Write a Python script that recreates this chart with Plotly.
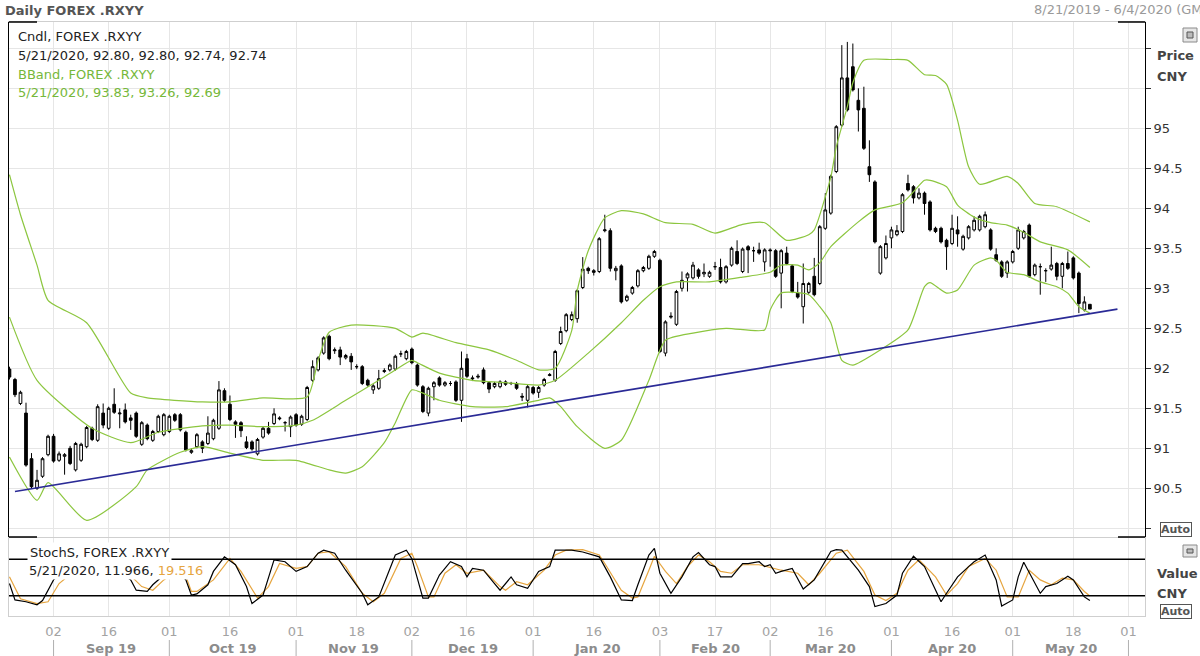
import pandas as pd
import plotly.graph_objects as go

# ------------------------------------------------------------------ data
trade_dates = pd.bdate_range("2019-08-21", "2020-05-21")  # 197 daily candles

open_px = [
    91.99, 91.86, 91.56, 91.44, 90.87, 90.50, 90.65, 90.92, 91.15, 90.85,
    90.90, 91.00, 90.73, 90.85, 91.02, 91.25, 91.10, 91.44, 91.25, 91.55,
    91.43, 91.48, 91.38, 91.44, 91.05, 91.29, 91.10, 91.21, 91.17, 91.21,
    91.42, 91.42, 91.20, 90.95, 91.02, 91.08, 91.06, 91.12, 91.25, 91.72,
    91.55, 91.33, 91.32, 91.08, 91.08, 90.93, 91.14, 91.25, 91.31, 91.38,
    91.32, 91.27, 91.42, 91.30, 91.36, 91.85, 91.98, 92.19, 92.40, 92.22,
    92.23, 92.13, 92.15, 92.02, 92.02, 91.85, 91.73, 91.75, 91.96, 91.98,
    91.99, 92.18, 92.12, 92.24, 92.04, 91.77, 91.44, 91.77, 91.88, 91.79,
    91.81, 91.83, 91.60, 92.12, 91.88, 91.89, 91.98, 91.82, 91.77, 91.77,
    91.83, 91.81, 91.81, 91.65, 91.60, 91.76, 91.70, 91.79, 91.91, 91.85,
    92.31, 92.47, 92.61, 92.62, 93.01, 93.25, 93.22, 93.21, 93.72, 93.72,
    93.22, 93.28, 92.85, 92.94, 93.03, 93.22, 93.25, 93.40, 93.35, 92.19,
    92.64, 92.55, 93.00, 93.13, 93.13, 93.23, 93.18, 93.15, 93.27, 93.26,
    93.08, 93.29, 93.46, 93.21, 93.52, 93.47, 93.48, 93.33, 93.48, 93.47,
    93.19, 93.44, 93.28, 92.94, 92.77, 92.95, 93.15, 93.06, 93.75, 93.94,
    94.46, 95.04, 95.63, 95.77, 95.35, 95.25, 94.52, 94.33, 93.19, 93.38,
    93.63, 93.67, 93.71, 94.31, 94.27, 94.13, 94.19, 94.08, 93.75, 93.75,
    93.60, 93.56, 93.73, 93.49, 93.63, 93.73, 93.73, 93.77, 93.73, 93.42,
    93.33, 93.19, 93.33, 93.50, 93.63, 93.79, 93.17, 93.27, 93.22, 93.24,
    93.31, 93.15, 93.31, 93.38, 93.19, 92.73, 92.80,
]
high_px = [
    92.02, 91.88, 91.72, 91.57, 90.94, 90.73, 90.89, 91.17, 91.18, 90.96,
    90.94, 91.03, 91.08, 91.07, 91.28, 91.27, 91.55, 91.56, 91.52, 91.75,
    91.50, 91.56, 91.42, 91.46, 91.34, 91.31, 91.23, 91.42, 91.44, 91.42,
    91.44, 91.44, 91.22, 91.00, 91.19, 91.10, 91.40, 91.37, 91.84, 91.75,
    91.66, 91.35, 91.34, 91.15, 91.10, 91.13, 91.27, 91.33, 91.50, 91.40,
    91.34, 91.41, 91.44, 91.42, 91.78, 92.10, 92.15, 92.40, 92.42, 92.26,
    92.27, 92.18, 92.19, 92.05, 92.04, 91.87, 91.80, 91.98, 92.00, 92.06,
    92.17, 92.22, 92.23, 92.26, 92.06, 91.79, 91.77, 91.84, 91.90, 91.84,
    91.84, 91.85, 92.21, 92.18, 91.91, 91.93, 92.01, 91.84, 91.83, 91.85,
    91.85, 91.83, 91.83, 91.69, 91.79, 91.78, 91.78, 91.88, 91.94, 92.23,
    92.52, 92.69, 92.71, 92.99, 93.39, 93.27, 93.24, 93.64, 93.92, 93.75,
    93.28, 93.30, 92.92, 93.03, 93.24, 93.28, 93.42, 93.48, 93.37, 92.60,
    92.70, 92.98, 93.21, 93.20, 93.33, 93.25, 93.31, 93.22, 93.33, 93.37,
    93.29, 93.52, 93.60, 93.51, 93.54, 93.52, 93.57, 93.50, 93.50, 93.49,
    93.49, 93.52, 93.30, 93.08, 93.31, 93.08, 93.38, 93.79, 94.19, 94.42,
    95.04, 96.04, 96.08, 96.06, 95.50, 95.52, 94.85, 94.35, 93.54, 93.66,
    93.77, 93.79, 94.19, 94.42, 94.29, 94.25, 94.21, 94.10, 93.77, 93.77,
    93.62, 93.92, 93.90, 93.67, 93.79, 93.90, 93.92, 93.96, 93.75, 93.50,
    93.35, 93.35, 93.48, 93.77, 93.73, 93.81, 93.31, 93.31, 93.25, 93.52,
    93.33, 93.33, 93.46, 93.40, 93.21, 92.90, 92.80,
]
low_px = [
    91.86, 91.64, 91.54, 90.77, 90.50, 90.48, 90.63, 90.90, 90.82, 90.83,
    90.67, 90.79, 90.71, 90.83, 91.00, 91.09, 91.08, 91.25, 91.23, 91.43,
    91.25, 91.31, 91.23, 91.13, 91.03, 91.10, 91.08, 91.19, 91.15, 91.19,
    91.33, 91.21, 90.96, 90.93, 91.00, 90.94, 91.04, 91.10, 91.23, 91.58,
    91.34, 91.13, 91.14, 90.99, 90.97, 90.91, 91.12, 91.17, 91.29, 91.35,
    91.21, 91.14, 91.27, 91.28, 91.34, 91.83, 91.96, 92.17, 92.10, 92.18,
    92.04, 92.11, 91.98, 91.99, 91.79, 91.77, 91.68, 91.73, 91.94, 91.96,
    91.97, 92.14, 92.10, 92.05, 91.77, 91.44, 91.40, 91.60, 91.77, 91.77,
    91.78, 91.58, 91.33, 91.88, 91.84, 91.87, 91.80, 91.69, 91.75, 91.75,
    91.78, 91.79, 91.73, 91.59, 91.51, 91.67, 91.63, 91.77, 91.90, 91.83,
    92.29, 92.45, 92.59, 92.57, 92.99, 93.18, 93.16, 93.19, 93.70, 93.21,
    93.10, 92.81, 92.83, 92.92, 93.01, 93.20, 93.23, 93.38, 92.19, 92.15,
    92.62, 92.53, 92.96, 92.96, 93.11, 93.12, 93.14, 93.13, 93.23, 93.06,
    93.06, 93.27, 93.29, 93.19, 93.19, 93.33, 93.42, 93.21, 93.27, 93.13,
    92.75, 93.29, 92.94, 92.87, 92.56, 92.93, 92.90, 93.04, 93.73, 93.92,
    94.44, 95.02, 95.21, 95.46, 94.96, 94.73, 94.33, 93.56, 93.17, 93.36,
    93.50, 93.65, 93.69, 94.21, 94.06, 94.11, 93.92, 93.71, 93.69, 93.56,
    93.23, 93.54, 93.52, 93.47, 93.61, 93.71, 93.71, 93.75, 93.47, 93.33,
    93.13, 93.13, 93.31, 93.48, 93.61, 93.13, 93.15, 92.92, 93.08, 93.22,
    93.10, 93.00, 93.23, 93.11, 92.69, 92.71, 92.74,
]
close_px = [
    91.89, 91.67, 91.70, 90.79, 90.52, 90.60, 90.87, 91.15, 90.84, 90.93,
    90.92, 90.81, 91.06, 91.05, 91.26, 91.11, 91.52, 91.29, 91.50, 91.45,
    91.44, 91.33, 91.35, 91.15, 91.32, 91.12, 91.21, 91.40, 91.42, 91.40,
    91.35, 91.23, 90.98, 90.97, 91.17, 91.00, 91.19, 91.35, 91.73, 91.60,
    91.36, 91.30, 91.22, 91.01, 90.99, 91.11, 91.25, 91.19, 91.43, 91.37,
    91.32, 91.39, 91.29, 91.40, 91.76, 92.02, 92.13, 92.38, 92.12, 92.23,
    92.14, 92.16, 92.08, 92.02, 91.81, 91.79, 91.78, 91.87, 91.97, 92.04,
    92.15, 92.18, 92.21, 92.07, 91.79, 91.46, 91.75, 91.82, 91.79, 91.82,
    91.81, 91.60, 92.00, 91.90, 91.87, 91.90, 91.82, 91.74, 91.81, 91.83,
    91.80, 91.81, 91.75, 91.64, 91.77, 91.69, 91.76, 91.86, 91.92, 92.21,
    92.46, 92.67, 92.67, 92.97, 93.24, 93.22, 93.20, 93.62, 93.73, 93.25,
    93.25, 92.83, 92.90, 93.01, 93.22, 93.26, 93.40, 93.46, 92.21, 92.58,
    92.65, 92.96, 93.10, 93.18, 93.29, 93.15, 93.20, 93.20, 93.27, 93.08,
    93.27, 93.50, 93.31, 93.49, 93.48, 93.47, 93.44, 93.48, 93.47, 93.15,
    93.47, 93.31, 92.96, 92.89, 93.06, 93.06, 92.92, 93.77, 93.98, 94.40,
    95.02, 95.63, 95.23, 95.48, 95.23, 94.75, 94.42, 93.58, 93.52, 93.56,
    93.73, 93.72, 94.17, 94.23, 94.13, 94.19, 94.06, 93.73, 93.71, 93.58,
    93.52, 93.75, 93.68, 93.65, 93.77, 93.85, 93.90, 93.92, 93.49, 93.35,
    93.15, 93.33, 93.46, 93.73, 93.71, 93.15, 93.29, 93.27, 93.22, 93.29,
    93.15, 93.31, 93.25, 93.13, 92.81, 92.83, 92.74,
]

# Bollinger bands
bb_upper_dates = ["2019-08-21", "2019-08-23", "2019-08-28", "2019-08-30", "2019-09-10", "2019-09-20",
                  "2019-09-25", "2019-10-09", "2019-10-16", "2019-10-24", "2019-11-05", "2019-11-07",
                  "2019-11-11", "2019-11-15", "2019-11-27", "2019-12-02", "2019-12-04", "2019-12-12",
                  "2019-12-20", "2019-12-27", "2020-01-02", "2020-01-07", "2020-01-10", "2020-01-13",
                  "2020-01-15", "2020-01-20", "2020-01-23", "2020-01-29", "2020-02-04", "2020-02-11",
                  "2020-02-17", "2020-02-24", "2020-02-28", "2020-03-05", "2020-03-11", "2020-03-12",
                  "2020-03-17", "2020-03-18", "2020-03-20", "2020-03-23", "2020-03-25", "2020-04-01",
                  "2020-04-06", "2020-04-09", "2020-04-13", "2020-04-15", "2020-04-17", "2020-04-21",
                  "2020-04-23", "2020-04-30", "2020-05-04", "2020-05-07", "2020-05-13", "2020-05-21"]
bb_upper = [94.42, 93.92, 93.29, 92.85, 92.57, 91.69, 91.63, 91.58, 91.58, 91.63, 91.64, 92.10,
            92.45, 92.54, 92.50, 92.39, 92.44, 92.32, 92.23, 92.10, 91.98, 92.00, 92.47, 92.97,
            93.47, 93.88, 93.97, 93.93, 93.82, 93.80, 93.69, 93.80, 93.82, 93.60, 93.67, 93.73,
            94.39, 94.77, 95.27, 95.57, 95.85, 95.86, 95.85, 95.67, 95.66, 95.55, 95.10, 94.52,
            94.30, 94.40, 94.31, 94.06, 94.02, 93.83]

bb_mid_dates = ["2019-08-21", "2019-08-28", "2019-09-11", "2019-09-20", "2019-09-27", "2019-10-09",
                "2019-10-16", "2019-10-24", "2019-11-01", "2019-11-06", "2019-11-14", "2019-11-22",
                "2019-11-27", "2019-12-02", "2019-12-03", "2019-12-09", "2019-12-17", "2019-12-25",
                "2020-01-02", "2020-01-07", "2020-01-15", "2020-01-23", "2020-01-29", "2020-02-03",
                "2020-02-06", "2020-02-14", "2020-02-24", "2020-03-02", "2020-03-04", "2020-03-09",
                "2020-03-11", "2020-03-13", "2020-03-17", "2020-03-24", "2020-03-27", "2020-04-03",
                "2020-04-09", "2020-04-10", "2020-04-15", "2020-04-17", "2020-04-22", "2020-04-27",
                "2020-04-30", "2020-05-05", "2020-05-08", "2020-05-15", "2020-05-21"]
bb_mid = [92.64, 91.85, 91.25, 91.07, 91.20, 91.28, 91.29, 91.27, 91.29, 91.35, 91.60, 91.85,
          91.98, 92.10, 92.07, 91.94, 91.85, 91.82, 91.79, 91.85, 92.19, 92.57, 92.85, 93.02,
          93.08, 93.08, 93.14, 93.20, 93.29, 93.29, 93.23, 93.32, 93.52, 93.83, 93.98, 94.07,
          94.35, 94.35, 94.27, 94.04, 93.89, 93.82, 93.79, 93.70, 93.58, 93.48, 93.26]

bb_lower_dates = ["2019-08-21", "2019-08-28", "2019-08-30", "2019-09-10", "2019-09-23", "2019-09-25",
                  "2019-10-03", "2019-10-09", "2019-10-16", "2019-10-24", "2019-11-01", "2019-11-11",
                  "2019-11-14", "2019-11-19", "2019-11-25", "2019-11-27", "2019-12-02", "2019-12-04",
                  "2019-12-09", "2019-12-17", "2019-12-25", "2020-01-02", "2020-01-06", "2020-01-08",
                  "2020-01-13", "2020-01-20", "2020-01-23", "2020-01-30", "2020-02-04", "2020-02-11",
                  "2020-02-19", "2020-02-28", "2020-03-02", "2020-03-04", "2020-03-11", "2020-03-13",
                  "2020-03-17", "2020-03-19", "2020-03-23", "2020-03-30", "2020-04-06", "2020-04-09",
                  "2020-04-10", "2020-04-15", "2020-04-17", "2020-04-22", "2020-04-27", "2020-04-28",
                  "2020-04-30", "2020-05-05", "2020-05-08", "2020-05-13", "2020-05-15", "2020-05-19",
                  "2020-05-21"]
bb_lower = [90.89, 90.35, 90.57, 90.10, 90.52, 90.73, 90.95, 91.02, 90.94, 90.85, 90.85, 90.73,
            90.69, 90.77, 91.07, 91.32, 91.73, 91.69, 91.60, 91.52, 91.52, 91.60, 91.63, 91.52,
            91.27, 91.00, 91.10, 91.85, 92.35, 92.44, 92.50, 92.48, 92.73, 92.94, 92.92, 92.77,
            92.57, 92.10, 92.04, 92.23, 92.48, 93.02, 93.07, 92.94, 92.98, 93.29, 93.38, 93.35,
            93.20, 93.17, 93.08, 93.02, 92.94, 92.77, 92.69]

# trend line drawn on the chart
trend_dates = ["2019-08-22", "2020-05-28"]
trend_vals = [90.46, 92.74]

# slow stochastic %K and %D
stoch_k_dates = ["2019-08-21", "2019-08-22", "2019-08-26", "2019-08-28", "2019-08-29", "2019-08-30",
                 "2019-09-02", "2019-09-04", "2019-09-06", "2019-09-10", "2019-09-12", "2019-09-16",
                 "2019-09-18", "2019-09-20", "2019-09-23", "2019-09-25", "2019-09-26", "2019-09-27",
                 "2019-09-30", "2019-10-01", "2019-10-02", "2019-10-03", "2019-10-04", "2019-10-07",
                 "2019-10-08", "2019-10-10", "2019-10-11", "2019-10-15", "2019-10-17", "2019-10-21",
                 "2019-10-22", "2019-10-24", "2019-10-28", "2019-10-30", "2019-11-01", "2019-11-05",
                 "2019-11-07", "2019-11-08", "2019-11-12", "2019-11-14", "2019-11-19", "2019-11-20",
                 "2019-11-22", "2019-11-27", "2019-11-29", "2019-12-02", "2019-12-04", "2019-12-05",
                 "2019-12-09", "2019-12-11", "2019-12-13", "2019-12-16", "2019-12-17", "2019-12-19",
                 "2019-12-23", "2019-12-24", "2019-12-26", "2019-12-27", "2019-12-31", "2020-01-02",
                 "2020-01-06", "2020-01-07", "2020-01-10", "2020-01-14", "2020-01-17", "2020-01-21",
                 "2020-01-23", "2020-01-27", "2020-01-28", "2020-01-30", "2020-01-31", "2020-02-03",
                 "2020-02-05", "2020-02-07", "2020-02-11", "2020-02-12", "2020-02-14", "2020-02-17",
                 "2020-02-18", "2020-02-20", "2020-02-24", "2020-02-25", "2020-02-27", "2020-02-28",
                 "2020-03-02", "2020-03-03", "2020-03-04", "2020-03-06", "2020-03-10", "2020-03-12",
                 "2020-03-17", "2020-03-18", "2020-03-19", "2020-03-24", "2020-03-26", "2020-03-27",
                 "2020-03-31", "2020-04-02", "2020-04-03", "2020-04-07", "2020-04-09", "2020-04-14",
                 "2020-04-15", "2020-04-17", "2020-04-21", "2020-04-22", "2020-04-24", "2020-04-28",
                 "2020-04-29", "2020-05-01", "2020-05-04", "2020-05-05", "2020-05-08", "2020-05-11",
                 "2020-05-13", "2020-05-15", "2020-05-18", "2020-05-20", "2020-05-21"]
stoch_k = [40, 13, 10, 5, 12, 29, 46, 62, 70, 78, 80, 75, 60, 46, 29, 27, 38, 46,
           55, 62, 60, 55, 46, 21, 23, 38, 60, 84, 71, 35, 7, 21, 79, 76, 60, 68,
           90, 95, 90, 62, 24, 5, 18, 87, 95, 81, 16, 16, 54, 76, 68, 51, 65, 62,
           40, 29, 51, 38, 32, 60, 68, 95, 95, 92, 84, 51, 13, 12, 38, 87, 98, 57,
           24, 51, 84, 91, 71, 68, 51, 51, 73, 73, 76, 68, 71, 57, 60, 65, 31, 46,
           93, 96, 95, 62, 35, 2, 7, 21, 57, 85, 68, 10, 24, 51, 68, 76, 87, 46,
           3, 13, 51, 75, 24, 35, 40, 52, 46, 18, 11.966]

stoch_d_dates = ["2019-08-21", "2019-08-23", "2019-08-28", "2019-08-30", "2019-09-03", "2019-09-05",
                 "2019-09-09", "2019-09-11", "2019-09-13", "2019-09-17", "2019-09-19", "2019-09-23",
                 "2019-09-24", "2019-09-26", "2019-09-30", "2019-10-01", "2019-10-02", "2019-10-03",
                 "2019-10-04", "2019-10-07", "2019-10-08", "2019-10-11", "2019-10-16", "2019-10-18",
                 "2019-10-23", "2019-10-25", "2019-10-29", "2019-11-01", "2019-11-05", "2019-11-07",
                 "2019-11-11", "2019-11-14", "2019-11-19", "2019-11-21", "2019-11-25", "2019-11-28",
                 "2019-12-02", "2019-12-03", "2019-12-05", "2019-12-06", "2019-12-10", "2019-12-12",
                 "2019-12-16", "2019-12-19", "2019-12-24", "2019-12-25", "2019-12-27", "2019-12-31",
                 "2020-01-03", "2020-01-07", "2020-01-09", "2020-01-14", "2020-01-17", "2020-01-20",
                 "2020-01-23", "2020-01-27", "2020-01-28", "2020-01-30", "2020-01-31", "2020-02-04",
                 "2020-02-06", "2020-02-10", "2020-02-12", "2020-02-14", "2020-02-18", "2020-02-20",
                 "2020-02-24", "2020-02-27", "2020-03-04", "2020-03-09", "2020-03-11", "2020-03-13",
                 "2020-03-18", "2020-03-20", "2020-03-25", "2020-03-27", "2020-03-31", "2020-04-02",
                 "2020-04-06", "2020-04-08", "2020-04-13", "2020-04-15", "2020-04-17", "2020-04-21",
                 "2020-04-24", "2020-04-28", "2020-04-30", "2020-05-04", "2020-05-06", "2020-05-08",
                 "2020-05-12", "2020-05-14", "2020-05-18", "2020-05-20", "2020-05-21"]
stoch_d = [51, 15, 7, 10, 40, 55, 65, 72, 76, 74, 62, 45, 35, 29, 46, 52, 58, 58,
           52, 27, 27, 46, 81.5, 60, 16, 35, 73, 65, 68, 90, 92.5, 68, 24, 10, 24, 81.5,
           90, 68, 18, 18, 57, 71, 57, 62, 35, 29, 43, 38, 62, 87, 95, 96, 87, 73,
           29, 16, 18, 62, 85, 60, 40, 68, 87, 76, 60, 57, 71, 71, 62, 57, 38, 57,
           90, 95, 60, 21, 12, 24, 62, 79, 51, 21, 40, 68, 81.5, 62, 18, 18, 62, 46,
           38, 49, 46, 27, 19.516]

# axis labels
day_tick_dates = ["2019-09-02", "2019-09-16", "2019-10-01", "2019-10-16", "2019-11-01", "2019-11-18",
                  "2019-12-02", "2019-12-16", "2020-01-01", "2020-01-16", "2020-02-03", "2020-02-17",
                  "2020-03-02", "2020-03-16", "2020-04-01", "2020-04-16", "2020-05-01", "2020-05-18",
                  "2020-06-01"]
day_tick_text = ["02", "16", "01", "16", "01", "18", "02", "16", "01", "16", "03", "17",
                 "02", "16", "01", "16", "01", "18", "01"]
month_starts = ["2019-09-02", "2019-10-01", "2019-11-01", "2019-12-02", "2020-01-01", "2020-02-03",
                "2020-03-02", "2020-04-01", "2020-05-01", "2020-06-01"]
month_labels = ["Sep 19", "Oct 19", "Nov 19", "Dec 19", "Jan 20", "Feb 20", "Mar 20", "Apr 20", "May 20"]
price_ticks = [90.0, 90.5, 91.0, 91.5, 92.0, 92.5, 93.0, 93.5, 94.0, 94.5, 95.0, 95.5, 96.0]
price_tick_text = ["", "90.5", "91", "91.5", "92", "92.5", "93", "93.5", "94", "94.5", "95", "", ""]

# ------------------------------------------------------------------ style / layout helpers
W, H = 1200, 656
PL, PR, PT, PB = 9, 1145, 22, 616
def pxx(x):
    return (x - PL) / (PR - PL)
def pxy(y):
    return (PB - y) / (PB - PT)

FONT = "DejaVu Sans"
GRID = "#e6e6e6"
FRAME = "#cfcfcf"
BB_COL = "#8cc63f"
BB_TXT = "#76b83a"
D_COL = "#e6a53f"
X_RANGE = ["2019-08-20 22:00", "2020-06-04"]
BREAKS = [dict(bounds=["sat", "mon"])]

fig = go.Figure()

fig.add_trace(go.Candlestick(
    x=trade_dates, open=open_px, high=high_px, low=low_px, close=close_px,
    increasing=dict(line=dict(color="black", width=1), fillcolor="white"),
    decreasing=dict(line=dict(color="black", width=1), fillcolor="black"),
    whiskerwidth=0, showlegend=False, hoverinfo="skip", xaxis="x", yaxis="y"))

for dts, vals in [(bb_upper_dates, bb_upper), (bb_mid_dates, bb_mid), (bb_lower_dates, bb_lower)]:
    fig.add_trace(go.Scatter(x=dts, y=vals, mode="lines", showlegend=False, hoverinfo="skip",
                             line=dict(color=BB_COL, width=1.2, shape="spline", smoothing=0.6),
                             xaxis="x", yaxis="y"))

fig.add_trace(go.Scatter(x=trend_dates, y=trend_vals, mode="lines", showlegend=False,
                         line=dict(color="#2a2a96", width=1.6), xaxis="x", yaxis="y"))

# last-value markers on the price scale
marker_x = "2020-06-05"
fig.add_trace(go.Scatter(x=[marker_x], y=[close_px[-1]], mode="markers", cliponaxis=False,
                         marker=dict(symbol="diamond", size=9, color="black"), showlegend=False,
                         xaxis="x", yaxis="y"))
fig.add_trace(go.Scatter(x=[marker_x] * 3, y=[bb_upper[-1], bb_mid[-1], bb_lower[-1]], mode="markers",
                         cliponaxis=False, marker=dict(symbol="diamond", size=9, color="#7cc242"),
                         showlegend=False, xaxis="x", yaxis="y"))

fig.add_trace(go.Scatter(x=stoch_d_dates, y=stoch_d, mode="lines", showlegend=False,
                         line=dict(color=D_COL, width=1.2), xaxis="x2", yaxis="y2"))
fig.add_trace(go.Scatter(x=stoch_k_dates, y=stoch_k, mode="lines", showlegend=False,
                         line=dict(color="black", width=1.2), xaxis="x2", yaxis="y2"))

fig.update_layout(
    width=W, height=H,
    margin=dict(l=PL, r=W - PR, t=PT, b=H - PB),
    paper_bgcolor="white", plot_bgcolor="white",
    font=dict(family=FONT, size=13, color="#333"),
    showlegend=False,
    xaxis=dict(domain=[0, 1], anchor="y", type="date", range=X_RANGE, rangebreaks=BREAKS,
               rangeslider=dict(visible=False), tickvals=day_tick_dates, showticklabels=False,
               showgrid=True, gridcolor=GRID, gridwidth=1, showline=True, linecolor=FRAME,
               mirror=True, ticks="", zeroline=False),
    yaxis=dict(domain=[pxy(537), 1], anchor="x", side="right", range=[89.891, 96.329],
               tickvals=price_ticks, ticktext=price_tick_text, showgrid=True, gridcolor=GRID,
               showline=True, linecolor="black", linewidth=1, mirror=True,
               ticks="outside", ticklen=5, tickcolor="#333", tickfont=dict(size=13, color="#333"),
               zeroline=False),
    xaxis2=dict(domain=[0, 1], anchor="y2", type="date", range=X_RANGE, rangebreaks=BREAKS,
                tickvals=day_tick_dates, ticktext=day_tick_text,
                tickfont=dict(size=13, color="#a3a3a3"), ticks="outside", ticklen=3,
                tickcolor="rgba(0,0,0,0)", showgrid=True, gridcolor=GRID, showline=True,
                linecolor=FRAME, mirror=True, zeroline=False),
    yaxis2=dict(domain=[0, pxy(538)], anchor="x2", range=[-13.5, 115.1], showgrid=False,
                showticklabels=False, ticks="", showline=True, linecolor=FRAME, mirror=True,
                zeroline=False),
)

shapes = []
# stochastic 80 / 20 levels
for lvl in (80, 20):
    shapes.append(dict(type="line", xref="paper", yref="y2", x0=0, x1=1, y0=lvl, y1=lvl,
                       line=dict(color="black", width=1.4)))
# black frame corners of the price panel
for (xa, xb, yy) in [(PL, 37, PT), (1118, PR, PT), (PL, 37, 537), (1118, PR, 537)]:
    shapes.append(dict(type="line", xref="paper", yref="paper", x0=pxx(xa), x1=pxx(xb),
                       y0=pxy(yy), y1=pxy(yy), line=dict(color="black", width=1.5)))
# month separators under the date axis
for ms in month_starts:
    shapes.append(dict(type="line", xref="x2", yref="paper", x0=ms, x1=ms,
                       y0=pxy(640), y1=pxy(656), line=dict(color="#b0b0b0", width=1)))
# small panel icons at the right
for (y0, y1) in [(28, 42), (545, 557)]:
    shapes.append(dict(type="rect", xref="paper", yref="paper", x0=pxx(1183), x1=pxx(1197),
                       y0=pxy(y1), y1=pxy(y0), line=dict(color="#8a8a8a", width=1),
                       fillcolor="#e6e6e6"))
    shapes.append(dict(type="rect", xref="paper", yref="paper", x0=pxx(1187), x1=pxx(1193),
                       y0=pxy(y1 - 4), y1=pxy(y0 + 4), line=dict(color="#555", width=1),
                       fillcolor="#bbbbbb"))
fig.update_layout(shapes=shapes)

ann = []
def text(x, y, s, size=13, color="#333", bold=False, xanchor="left", **kw):
    if bold:
        s = "<b>" + s + "</b>"
    ann.append(dict(xref="paper", yref="paper", x=pxx(x), y=pxy(y), text=s, showarrow=False,
                    xanchor=xanchor, yanchor="middle", font=dict(family=FONT, size=size, color=color),
                    **kw))

text(3, 10, "Daily FOREX .RXYY", color="#555", bold=True)
text(1032, 9, "8/21/2019 - 6/4/2020 (GMT)", color="#9a9a9a")

last_day = "5/21/2020"
text(16, 36, "Cndl, FOREX .RXYY", color="#222")
text(16, 55, f"{last_day}, {open_px[-1]:.2f}, {high_px[-1]:.2f}, {low_px[-1]:.2f}, {close_px[-1]:.2f}",
     color="#222")
text(16, 74, "BBand, FOREX .RXYY", color=BB_TXT)
text(16, 93, f"{last_day}, {bb_upper[-1]:.2f}, {bb_mid[-1]:.2f}, {bb_lower[-1]:.2f}", color=BB_TXT)

text(27, 552, "StochS, FOREX .RXYY", color="#222", bgcolor="white", borderpad=2)
text(27, 570, f"{last_day}, {stoch_k[-1]:.3f}, <span style='color:{D_COL}'>{stoch_d[-1]:.3f}</span>",
     color="#222", bgcolor="white", borderpad=1)

text(1155, 55, "Price", color="#444", bold=True)
text(1155, 76, "CNY", color="#444", bold=True)
text(1155, 573, "Value", color="#444", bold=True)
text(1155, 593, "CNY", color="#444", bold=True)
text(1176, 529, "Auto", size=11, color="#555", bold=True, xanchor="center",
     bgcolor="white", bordercolor="#555", borderwidth=1, borderpad=0)
text(1176, 611, "Auto", size=11, color="#555", bold=True, xanchor="center",
     bgcolor="white", bordercolor="#555", borderwidth=1, borderpad=0)

# month labels, centred between the month separators on the trading-day axis
axis_days = pd.bdate_range("2019-08-21", "2020-06-05")
for lab, a, b in zip(month_labels, month_starts[:-1], month_starts[1:]):
    p0 = axis_days.get_loc(pd.Timestamp(a))
    p1 = axis_days.get_loc(pd.Timestamp(b))
    k = (p0 + p1) / 2.0
    mid = axis_days[int(k)] + pd.Timedelta(hours=24 * (k - int(k)))
    ann.append(dict(xref="x2", yref="paper", x=mid, y=pxy(648), text="<b>" + lab + "</b>",
                    showarrow=False, xanchor="center", yanchor="middle",
                    font=dict(family=FONT, size=13, color="#8c8c8c")))

fig.update_layout(annotations=ann)
# the page's default body margin would shift the figure; remove it so it sits at the window origin
fig.write_html("out.html", config={"displayModeBar": False},
               post_script="document.body.style.margin='0';document.body.style.overflow='hidden';")
